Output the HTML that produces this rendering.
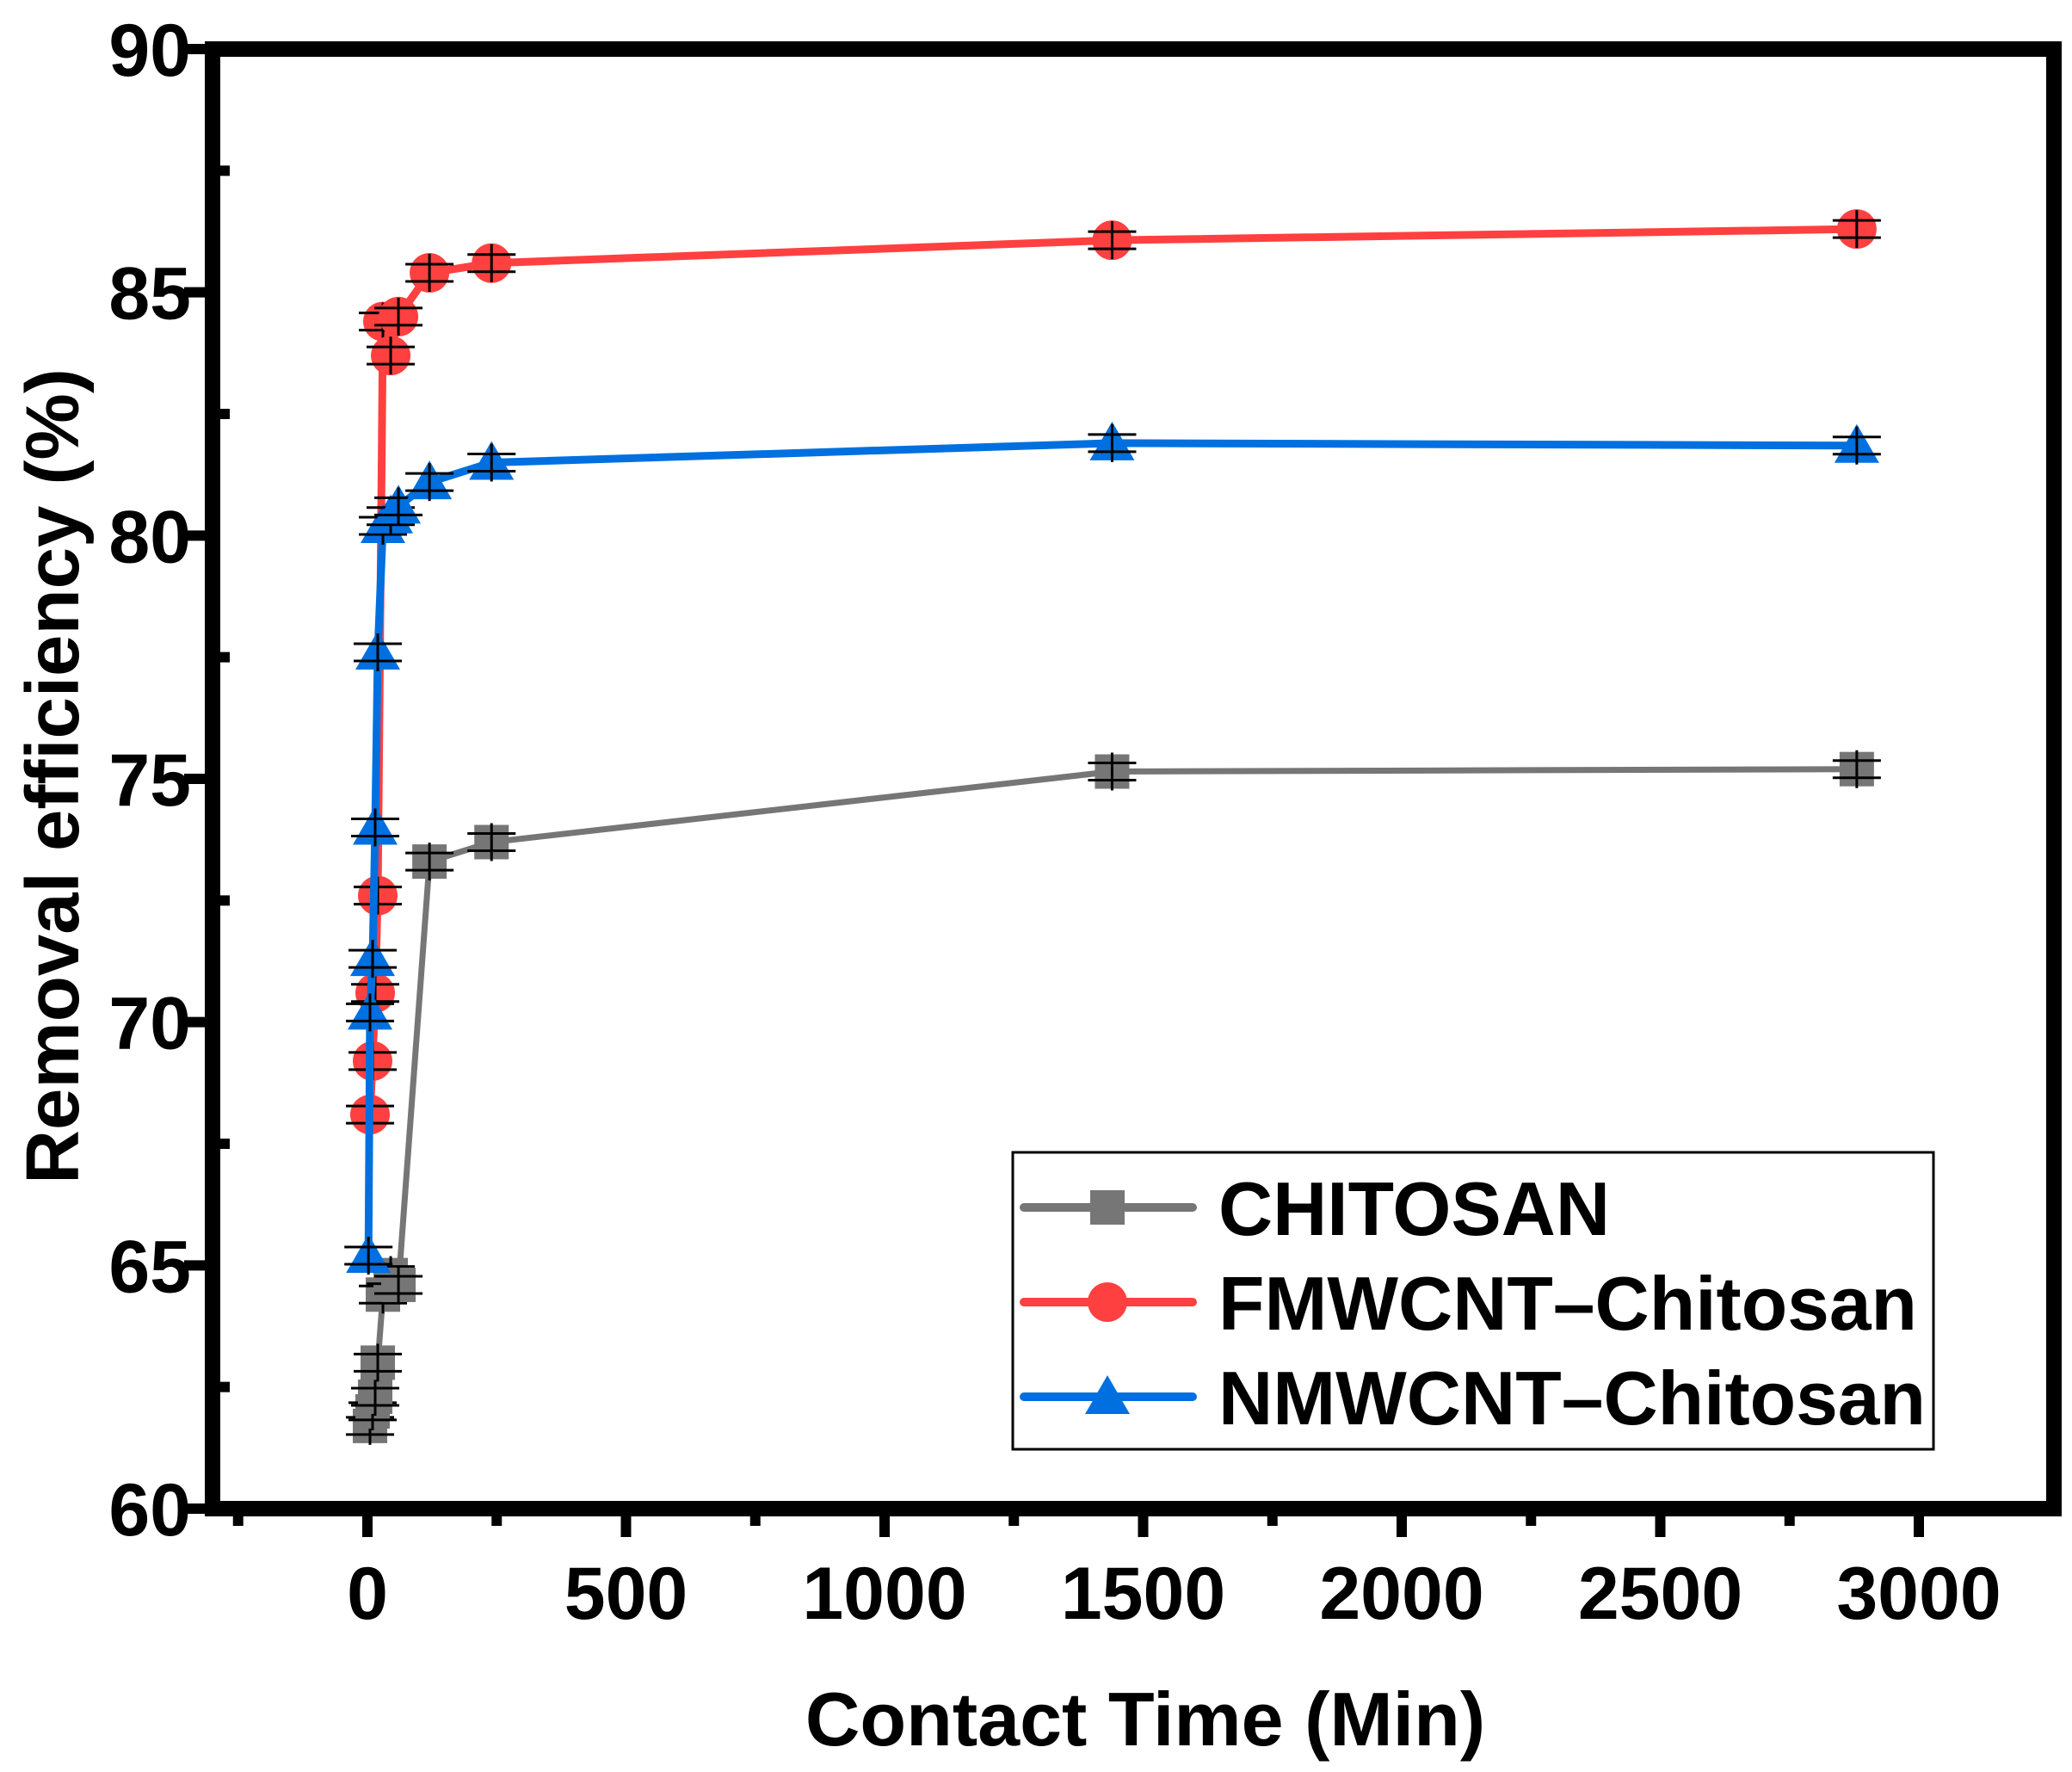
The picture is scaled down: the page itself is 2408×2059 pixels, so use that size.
<!DOCTYPE html>
<html><head><meta charset="utf-8"><style>
html,body{margin:0;padding:0;background:#fff;}
svg{display:block;font-family:"Liberation Sans",Arial,sans-serif;font-weight:bold;}
</style></head><body>
<svg id="chart" width="2408" height="2059" viewBox="0 0 2408 2059">
<g id="marks"></g>
<g id="axes"></g>
</svg>
<script>
const times = [5,10,15,20,30,45,60,120,240,1440,2880];
const chitosanY = [61.7,62.0,62.3,63.0,64.4,64.8,64.6,73.3,73.7,75.15,75.2];
const fmwcntY = [68.1,69.2,70.6,72.6,84.4,83.7,84.5,85.4,85.6,86.07,86.3];
const nmTimes = [2,5,10,15,20,30,45,60,120,240,1440,2880];
const nmwcntY = [65.2,70.2,71.3,74.0,77.6,80.2,80.4,80.6,81.1,81.5,81.9,81.85];
const xTicks = [0,500,1000,1500,2000,2500,3000];
const yTicks = [60,65,70,75,80,85,90];
const seriesNames = ["CHITOSAN","FMWCNT\u2013Chitosan","NMWCNT\u2013Chitosan"];

const L=247,R=2387,T=57,B=1753;
const X0=427, XS=0.601;
function xs(t){return X0+t*XS;}
function ys(v){return T+(90-v)*(B-T)/30;}
const NS="http://www.w3.org/2000/svg";
function mk(tag,attrs,parent){const e=document.createElementNS(NS,tag);for(const k in attrs)e.setAttribute(k,attrs[k]);parent.appendChild(e);return e;}
const marks=document.getElementById('marks'), axes=document.getElementById('axes');

function marker(type,cx,cy,color,g){
  let e;
  if(type==='sq') e=mk('rect',{x:cx-20,y:cy-20,width:40,height:40,fill:color},g);
  else if(type==='ci') e=mk('ellipse',{cx:cx,cy:cy,rx:23,ry:23,fill:color},g);
  else e=mk('polygon',{points:`${cx},${cy-25} ${cx-26},${cy+20} ${cx+26},${cy+20}`,fill:color},g);
  return e;
}
function series(tArr,yArr,color,type,name,lw){
  const g=mk('g',{},marks);
  
  
  const pts=tArr.map((t,i)=>xs(t)+','+ys(yArr[i])).join(' ');
  const pl=mk('polyline',{points:pts,fill:'none',stroke:color,'stroke-width':lw,'stroke-linejoin':'round'},g);
  
  
  tArr.forEach((t,i)=>{
    const cx=xs(t), cy=ys(yArr[i]);
    const m=marker(type,cx,cy,color,g);
    
    
    const eb=mk('path',{d:`M${cx},${cy-22}V${cy+22}M${cx-28},${cy-10}H${cx+28}M${cx-28},${cy+10}H${cx+28}`,stroke:'#000','stroke-width':3,fill:'none'},g);
    
    
  });
}
series(times,chitosanY,'#767676','sq','chitosan',7);
series(times,fmwcntY,'#ff4040','ci','fmwcnt',9);
series(nmTimes,nmwcntY,'#0070e0','tr','nmwcnt',9);

const fr=mk('rect',{x:L,y:T,width:R-L,height:B-T,fill:'none',stroke:'#000','stroke-width':18},axes);


xTicks.forEach(v=>{
  const x=xs(v);
  const t=mk('line',{x1:x,x2:x,y1:B,y2:B+33,stroke:'#000','stroke-width':12},axes);
  
  
  const m=mk('line',{x1:xs(v-250),x2:xs(v-250),y1:B,y2:B+20,stroke:'#000','stroke-width':12},axes);
  
  
  const lb=mk('text',{x:x,y:1881,'font-size':86,'text-anchor':'middle'},axes);
  lb.textContent=v;
  
  
});
yTicks.forEach(v=>{
  const y=ys(v);
  const t=mk('line',{x1:L-33,x2:L,y1:y,y2:y,stroke:'#000','stroke-width':12},axes);
  
  
  if(v<90){const m=mk('line',{x1:L,x2:L+20,y1:ys(v+2.5),y2:ys(v+2.5),stroke:'#000','stroke-width':12},axes);
  
  }
  const lb=mk('text',{x:222,y:y+31,'font-size':86,'text-anchor':'end'},axes);
  lb.textContent=v;
  
  
});
const xt=mk('text',{x:1331,y:2028,'font-size':88,'text-anchor':'middle'},axes);
xt.textContent='Contact Time (Min)';


const yt=mk('text',{x:0,y:0,'font-size':87,'text-anchor':'middle',transform:'translate(91,902) rotate(-90)'},axes);
yt.textContent='Removal efficiency (%)';



const lg=mk('g',{},axes);


const lbx=mk('rect',{x:1177,y:1339,width:1070,height:345,fill:'#fff',stroke:'#000','stroke-width':3},lg);


const lcol=['#767676','#ff4040','#0070e0'], ltype=['sq','ci','tr'], ly=[1403,1513,1623], lw=[455,812,822];
seriesNames.forEach((n,i)=>{
  const l=mk('line',{x1:1190,x2:1386,y1:ly[i],y2:ly[i],stroke:lcol[i],'stroke-width':10,'stroke-linecap':'round'},lg);
  
  
  const m=marker(ltype[i],1287,ly[i],lcol[i],lg);
  
  
  const t=mk('text',{x:1416,y:ly[i]+32,'font-size':88,textLength:lw[i],lengthAdjust:'spacingAndGlyphs'},lg);
  t.textContent=n;
  
  
});
</script>
</body></html>
